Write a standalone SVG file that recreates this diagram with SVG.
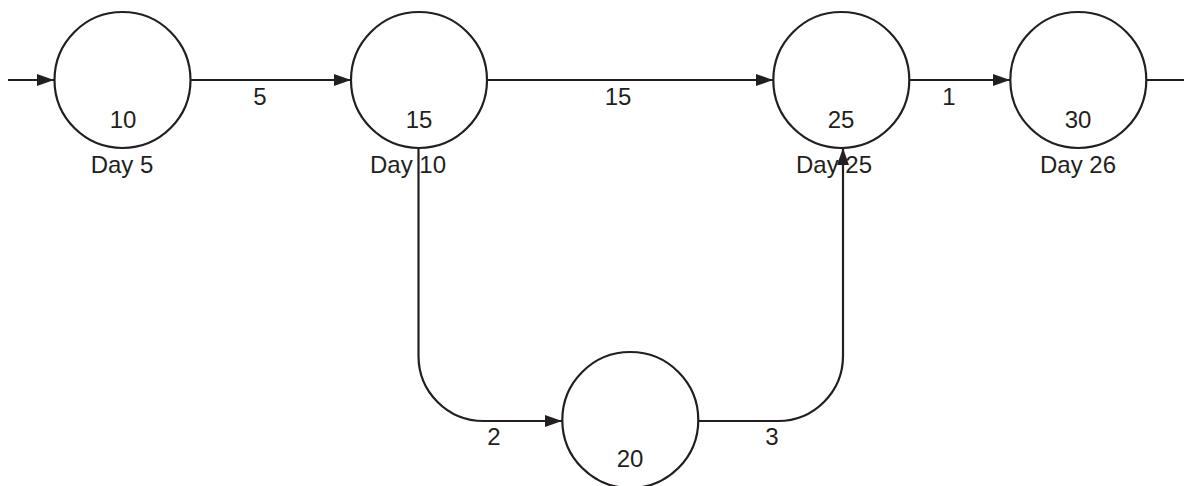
<svg xmlns="http://www.w3.org/2000/svg" width="1184" height="486" viewBox="0 0 1184 486">
  <style>
    .node { fill: #ffffff; stroke: #231f20; stroke-width: 2.2; }
    .edge { fill: none; stroke: #231f20; stroke-width: 2.2; }
    text { font-family: "Liberation Sans", Arial, sans-serif; font-size: 24px; fill: #231f20; text-anchor: middle; }
  </style>
  <defs>
    <marker id="arrow" markerUnits="userSpaceOnUse" markerWidth="18" markerHeight="12" refX="17" refY="6" orient="auto">
      <path d="M0,0 L17,6 L0,12 Z" fill="#231f20"/>
    </marker>
  </defs>
  <rect width="1184" height="486" fill="#ffffff"/>

  <g id="connectors">
    <path class="edge" d="M8,80 H54" marker-end="url(#arrow)"/>
    <path class="edge" d="M191,80 H351" marker-end="url(#arrow)"/>
    <path class="edge" d="M487,80 H773" marker-end="url(#arrow)"/>
    <path class="edge" d="M909,80 H1010" marker-end="url(#arrow)"/>
    <path class="edge" d="M1147,80 H1184"/>
    <path class="edge" d="M418.5,148 V356 A65,65 0 0 0 483.5,421 H562" marker-end="url(#arrow)"/>
    <path class="edge" d="M698,421 H778 A65,65 0 0 0 843,356 V148" marker-end="url(#arrow)"/>
    <text x="260" y="105">5</text>
    <text x="618" y="105">15</text>
    <text x="949" y="105">1</text>
    <text x="494" y="445">2</text>
    <text x="772" y="445">3</text>
  </g>

  <g id="node-10">
    <circle class="node" cx="122.5" cy="80" r="68"/>
    <text x="123" y="128">10</text>
    <text x="122" y="173">Day 5</text>
  </g>
  <g id="node-15">
    <circle class="node" cx="419" cy="80" r="68"/>
    <text x="419" y="128">15</text>
    <text x="408" y="173">Day 10</text>
  </g>
  <g id="node-25">
    <circle class="node" cx="841.3" cy="80" r="68"/>
    <text x="841" y="128">25</text>
    <text x="834" y="173">Day 25</text>
  </g>
  <g id="node-30">
    <circle class="node" cx="1078.3" cy="80" r="68"/>
    <text x="1078" y="128">30</text>
    <text x="1078" y="173">Day 26</text>
  </g>
  <g id="node-20">
    <circle class="node" cx="630.3" cy="420" r="68"/>
    <text x="630" y="467">20</text>
  </g>
</svg>
